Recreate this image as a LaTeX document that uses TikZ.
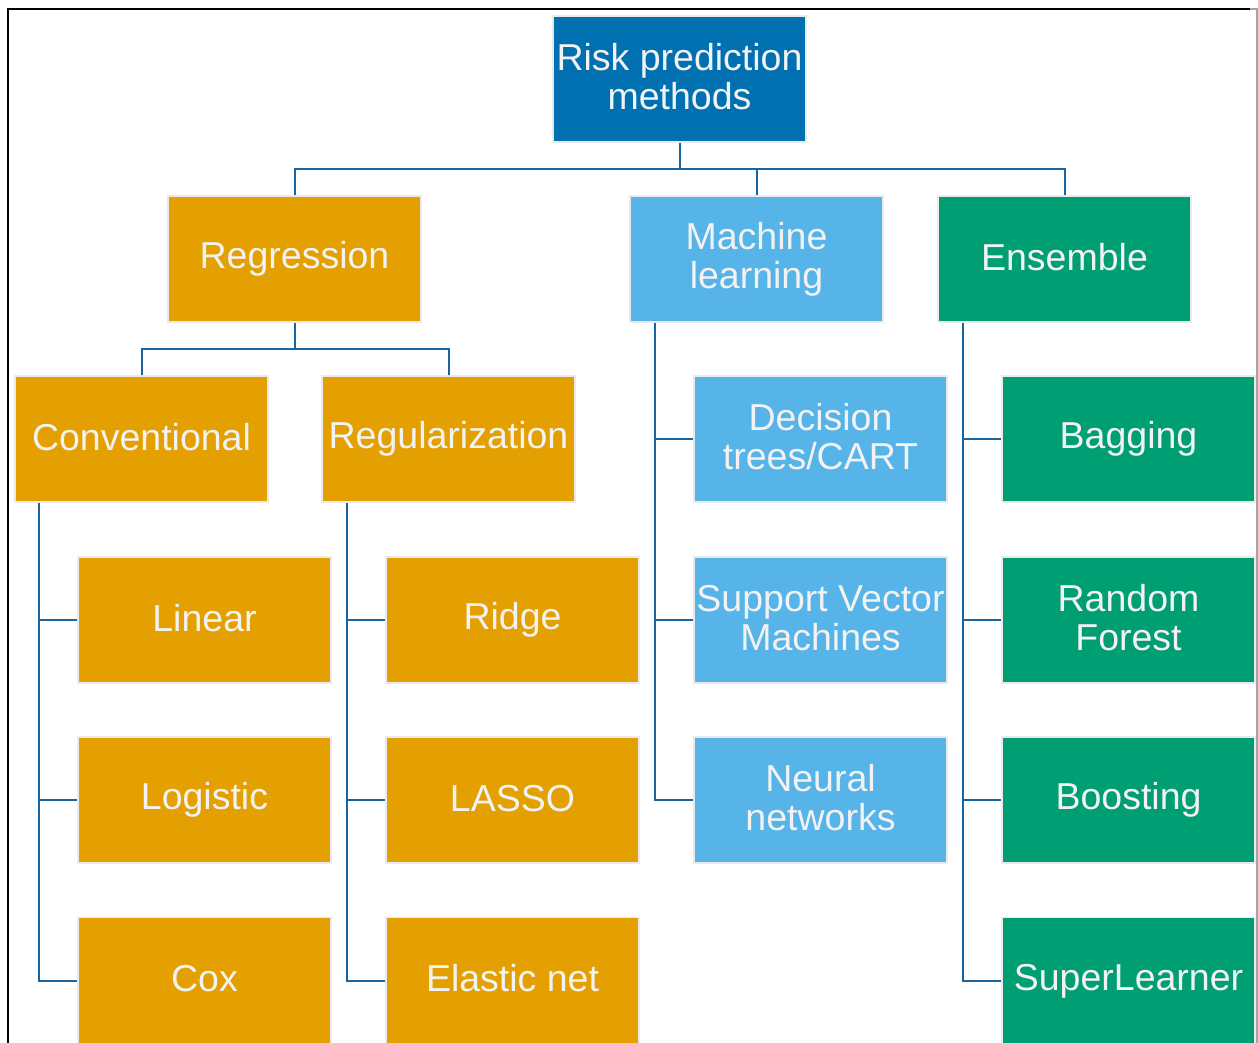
\documentclass[tikz,border=0pt]{standalone}
\usepackage{fontspec}
\setmainfont{Liberation Sans}
\definecolor{rootblue}{HTML}{0070B0}
\definecolor{regorange}{HTML}{E3A000}
\definecolor{mlblue}{HTML}{56B4E9}
\definecolor{ensgreen}{HTML}{009E73}
\definecolor{linkblue}{HTML}{1A64A0}
\definecolor{boxedge}{HTML}{EAEAEA}
\definecolor{boxtext}{HTML}{F2F2F2}
% fixed line box so every text line is placed the same way
\newcommand\lnstrut{\rule[-5pt]{0pt}{32pt}}
\tikzset{
  box/.style={rectangle, draw=boxedge, line width=1.5pt, minimum width=253pt,
    minimum height=126pt, inner sep=0pt, align=center, text=boxtext,
    font=\fontsize{37.5pt}{39pt}\selectfont},
  rootbox/.style={box, fill=rootblue},
  regbox/.style={box, fill=regorange},
  mlbox/.style={box, fill=mlblue},
  ensbox/.style={box, fill=ensgreen},
  link/.style={draw=linkblue, line width=2pt}
}
\begin{document}
\begin{tikzpicture}[x=1pt,y=-1pt]
\clip (0,0) rectangle (1258,1043);
\fill[white] (0,0) rectangle (1258,1043);
% outer frame
\draw[line width=2pt, black] (8,1045) -- (8,9) -- (1250,9);
\draw[line width=2pt, gray!70] (1250,9) -- (1257,9) -- (1257,1045);

% top level
\node[rootbox] (root) at (679.5,79) {\lnstrut Risk prediction\\\lnstrut methods};
\node[regbox] (reg) at (294.5,259) {\lnstrut Regression};
\node[mlbox]  (ml)  at (756.5,259) {\lnstrut Machine\\\lnstrut learning};
\node[ensbox] (ens) at (1064.5,259) {\lnstrut Ensemble};

% regression branch
\node[regbox] (conv)  at (141.5,439) {\lnstrut Conventional};
\node[regbox] (regul) at (448.5,439) {\lnstrut Regularization};
\node[regbox] (lin)   at (204.5,620) {\lnstrut Linear};
\node[regbox] (logi)  at (204.5,800) {\lnstrut Logistic};
\node[regbox] (cox)   at (204.5,980.5) {\lnstrut Cox};
\node[regbox] (ridge) at (512.5,620) {\lnstrut Ridge};
\node[regbox] (lasso) at (512.5,800) {\lnstrut LASSO};
\node[regbox] (enet)  at (512.5,980.5) {\lnstrut Elastic net};

% machine learning branch
\node[mlbox] (cart) at (820.5,439) {\lnstrut Decision\\\lnstrut trees/CART};
\node[mlbox] (svm)  at (820.5,620) {\lnstrut Support Vector\\\lnstrut Machines};
\node[mlbox] (nn)   at (820.5,800) {\lnstrut Neural\\\lnstrut networks};

% ensemble branch
\node[ensbox] (bag)   at (1128.5,439) {\lnstrut Bagging};
\node[ensbox] (rf)    at (1128.5,620) {\lnstrut Random\\\lnstrut Forest};
\node[ensbox] (boost) at (1128.5,800) {\lnstrut Boosting};
\node[ensbox] (sl)    at (1128.5,980.5) {\lnstrut SuperLearner};

% connectors: root to first level
\coordinate (bus) at (679.5,169);
\draw[link] (root.south) -- (bus);
\draw[link] (reg.north) |- (bus) -| (ens.north);
\draw[link] (ml.north) -- (ml.north |- bus);

% regression to its two groups
\coordinate (regbus) at (294.5,349);
\draw[link] (reg.south) -- (regbus);
\draw[link] (conv.north) |- (regbus) -| (regul.north);

% trunks with side branches
\coordinate (convtrunk) at (39,503);
\draw[link] (convtrunk) |- (cox.west);
\draw[link] (convtrunk |- lin.west) -- (lin.west);
\draw[link] (convtrunk |- logi.west) -- (logi.west);

\coordinate (regultrunk) at (347,503);
\draw[link] (regultrunk) |- (enet.west);
\draw[link] (regultrunk |- ridge.west) -- (ridge.west);
\draw[link] (regultrunk |- lasso.west) -- (lasso.west);

\coordinate (mltrunk) at (655,323);
\draw[link] (mltrunk) |- (nn.west);
\draw[link] (mltrunk |- cart.west) -- (cart.west);
\draw[link] (mltrunk |- svm.west) -- (svm.west);

\coordinate (enstrunk) at (963,323);
\draw[link] (enstrunk) |- (sl.west);
\draw[link] (enstrunk |- bag.west) -- (bag.west);
\draw[link] (enstrunk |- rf.west) -- (rf.west);
\draw[link] (enstrunk |- boost.west) -- (boost.west);
\end{tikzpicture}
\end{document}
